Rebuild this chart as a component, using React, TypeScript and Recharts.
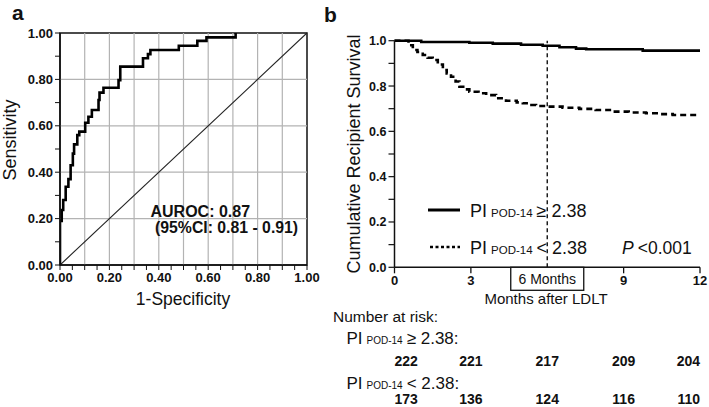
import React from 'react'
import { LineChart, Line, XAxis, YAxis, ReferenceLine, ReferenceArea } from 'recharts'

const FONT = '"Liberation Sans", Arial, Helvetica, sans-serif'

// panel a: ROC step corners (1-specificity, sensitivity)
const rocFpr = [0, 0, 0.007, 0.013, 0.023, 0.034, 0.043, 0.052, 0.057, 0.07, 0.078, 0.102, 0.115, 0.129, 0.156, 0.16, 0.176, 0.237, 0.244, 0.336, 0.356, 0.366, 0.481, 0.556, 0.593, 0.711]
const rocTpr = [0, 0.19, 0.237, 0.28, 0.337, 0.37, 0.43, 0.48, 0.52, 0.56, 0.575, 0.613, 0.639, 0.668, 0.711, 0.743, 0.764, 0.797, 0.855, 0.891, 0.909, 0.927, 0.945, 0.966, 0.981, 1.0]
const diagX = [0, 1]
const rocXTicks = [0, 0.05, 0.1, 0.15, 0.2, 0.25, 0.3, 0.35, 0.4, 0.45, 0.5, 0.55, 0.6, 0.65, 0.7, 0.75, 0.8, 0.85, 0.9, 0.95, 1]
const rocYTicks = [0, 0.1, 0.2, 0.3, 0.4, 0.5, 0.6, 0.7, 0.8, 0.9, 1]
const rocVGrid = [0.1, 0.2, 0.3, 0.4, 0.5, 0.6, 0.7, 0.8, 0.9]
const rocHGrid = [0.2, 0.4, 0.6, 0.8]

// panel b: Kaplan-Meier survival
const highMonths = [0, 1.05, 2.94, 3.86, 4.97, 5.82, 6.48, 7.13, 7.53, 9.75, 12]
const highSurv = [1, 0.994, 0.991, 0.987, 0.982, 0.978, 0.971, 0.965, 0.962, 0.956, 0.956]
const lowMonths = [0, 0.55, 0.72, 0.9, 1.11, 1.3, 1.5, 1.7, 1.9, 2.05, 2.22, 2.4, 2.55, 2.75, 2.94, 3.3, 3.6, 3.99, 4.38, 4.8, 5.04, 5.3, 5.56, 5.96, 6.6, 7.26, 7.9, 8.57, 9.2, 9.88, 10.4, 10.93, 12]
const lowSurv = [1, 0.98, 0.959, 0.95, 0.937, 0.925, 0.915, 0.895, 0.871, 0.855, 0.841, 0.82, 0.797, 0.785, 0.775, 0.768, 0.76, 0.746, 0.735, 0.728, 0.724, 0.716, 0.712, 0.709, 0.704, 0.699, 0.694, 0.687, 0.683, 0.68, 0.676, 0.672, 0.672]
const kmXTicks = [0, 3, 6, 9, 12]
const kmYTicks = [0, 0.1, 0.2, 0.3, 0.4, 0.5, 0.6, 0.7, 0.8, 0.9, 1]

// number at risk
const riskMonths = [0, 3, 6, 9, 12]
const riskHigh = [222, 221, 217, 209, 204]
const riskLow = [173, 136, 124, 116, 110]

const rocData = rocFpr.map((x, i) => ({ x, y: rocTpr[i] }))
const diagData = diagX.map((x) => ({ x, y: x }))
const highData = highMonths.map((t, i) => ({ t, s: highSurv[i] }))
const lowData = lowMonths.map((t, i) => ({ t, s: lowSurv[i] }))

// pixel position of a month on panel b (matches the chart's plot box)
const KM_LEFT = 394.5
const KM_RIGHT = 700
const monthX = (m: number) => KM_LEFT + (m / 12) * (KM_RIGHT - KM_LEFT)

const isMajor = (v: number) => Math.round(v * 100) % 20 === 0

const RocXTick = (p: any) => {
  const v = p.payload.value
  if (!isMajor(v)) return <g />
  return (
    <text x={p.x} y={p.y + 10} textAnchor="middle" fontSize={13} fontWeight="bold" fontFamily={FONT} fill="#111">
      {v.toFixed(2)}
    </text>
  )
}

const RocYTick = (p: any) => {
  const v = p.payload.value
  if (!isMajor(v)) return <g />
  return (
    <text x={p.x} y={p.y + 4.5} textAnchor="end" fontSize={13} fontWeight="bold" fontFamily={FONT} fill="#111">
      {v.toFixed(2)}
    </text>
  )
}

const KmXTick = (p: any) => {
  const v = p.payload.value
  if (v === 6) {
    const top = p.y - 8
    return (
      <g>
        <rect x={p.x - 36.5} y={top} width={73} height={23} fill="#fff" stroke="#111" strokeWidth={1.3} />
        <text x={p.x} y={top + 17} textAnchor="middle" fontSize={14} fontFamily={FONT} fill="#111">
          6 Months
        </text>
      </g>
    )
  }
  return (
    <text x={p.x} y={p.y + 10} textAnchor="middle" fontSize={13} fontWeight="bold" fontFamily={FONT} fill="#111">
      {v}
    </text>
  )
}

const KmYTick = (p: any) => {
  const v = p.payload.value
  if (!isMajor(v)) return <g />
  return (
    <text x={p.x} y={p.y + 4.5} textAnchor="end" fontSize={12.5} fontWeight="bold" fontFamily={FONT} fill="#111">
      {v.toFixed(1)}
    </text>
  )
}

const PiLabel = ({ x, y, big, small, sign }: { x: number; y: number; big: number; small: number; sign: string }) => (
  <text x={x} y={y} fontFamily={FONT} fill="#111">
    <tspan fontSize={big}>PI</tspan>
    <tspan fontSize={small} dx={4}>POD-14</tspan>
    <tspan fontSize={big} dx={4}>{sign}</tspan>
  </text>
)

export default function App() {
  return (
    <div style={{ position: 'absolute', left: 0, top: 0, width: 709, height: 407, background: '#fff', fontFamily: FONT }}>
      <div style={{ position: 'absolute', left: 0, top: 0 }}>
        <LineChart width={330} height={320} margin={{ top: 33, right: 23, left: 10, bottom: 25 }}>
          <XAxis
            type="number"
            dataKey="x"
            domain={[0, 1]}
            ticks={rocXTicks}
            interval={0}
            height={30}
            tickSize={5}
            tick={RocXTick}
            axisLine={{ stroke: '#111', strokeWidth: 1.5 }}
            tickLine={{ stroke: '#111' }}
            allowDataOverflow
          />
          <YAxis
            type="number"
            dataKey="y"
            domain={[0, 1]}
            ticks={rocYTicks}
            interval={0}
            width={50}
            tickSize={5}
            tick={RocYTick}
            axisLine={{ stroke: '#111', strokeWidth: 1.5 }}
            tickLine={{ stroke: '#111' }}
          />
          {rocVGrid.map((g) => (
            <ReferenceLine key={'v' + g} x={g} stroke="#b3b3b3" strokeWidth={1.2} />
          ))}
          {rocHGrid.map((g) => (
            <ReferenceLine key={'h' + g} y={g} stroke="#b3b3b3" strokeWidth={1.2} />
          ))}
          <ReferenceArea x1={0} x2={1} y1={0} y2={1} fill="none" stroke="#111" strokeWidth={1.5} />
          <Line data={diagData} dataKey="y" type="linear" stroke="#222" strokeWidth={1.1} dot={false} isAnimationActive={false} />
          <Line data={rocData} dataKey="y" type="stepAfter" stroke="#000" strokeWidth={2.6} dot={false} isAnimationActive={false} />
        </LineChart>
      </div>

      <div style={{ position: 'absolute', left: 330, top: 0 }}>
        <LineChart width={379} height={300} margin={{ top: 40.7, right: 9, left: 14.5, bottom: 2.7 }}>
          <XAxis
            type="number"
            dataKey="t"
            domain={[0, 12]}
            ticks={kmXTicks}
            interval={0}
            height={30}
            tickSize={6}
            tick={KmXTick}
            axisLine={{ stroke: '#111', strokeWidth: 1.5 }}
            tickLine={{ stroke: '#111', strokeWidth: 1.3 }}
          />
          <YAxis
            type="number"
            dataKey="s"
            domain={[0, 1]}
            ticks={kmYTicks}
            interval={0}
            width={50}
            tickSize={6}
            tick={KmYTick}
            axisLine={{ stroke: '#111', strokeWidth: 1.5 }}
            tickLine={{ stroke: '#111', strokeWidth: 1.2 }}
          />
          <ReferenceLine x={6} stroke="#111" strokeWidth={1.4} strokeDasharray="4 3" />
          <Line data={highData} dataKey="s" type="stepAfter" stroke="#000" strokeWidth={2.6} dot={false} isAnimationActive={false} />
          <Line data={lowData} dataKey="s" type="stepAfter" stroke="#000" strokeWidth={2.6} strokeDasharray="6 4" dot={false} isAnimationActive={false} />
        </LineChart>
      </div>

      <svg width={709} height={407} style={{ position: 'absolute', left: 0, top: 0, pointerEvents: 'none' }}>
        <text x={12} y={20} fontSize={21} fontWeight="bold" fontFamily={FONT} fill="#111">a</text>
        <text x={324} y={22} fontSize={21} fontWeight="bold" fontFamily={FONT} fill="#111">b</text>

        <text transform="translate(16,140) rotate(-90)" textAnchor="middle" fontSize={18} fontFamily={FONT} fill="#111">
          Sensitivity
        </text>
        <text x={183} y={305} textAnchor="middle" fontSize={17.5} fontFamily={FONT} fill="#111">1-Specificity</text>
        <text x={150.5} y={216.5} fontSize={16} fontWeight="bold" fontFamily={FONT} fill="#111">AUROC: 0.87</text>
        <text x={155} y={233} fontSize={15.8} fontWeight="bold" fontFamily={FONT} fill="#111">(95%CI: 0.81 - 0.91)</text>

        <text transform="translate(360,154) rotate(-90)" textAnchor="middle" fontSize={18} fontFamily={FONT} fill="#111">
          Cumulative Recipient Survival
        </text>
        <text x={546} y={303.5} textAnchor="middle" fontSize={15} fontFamily={FONT} fill="#111">Months after LDLT</text>

        <line x1={428} y1={210} x2={460} y2={210} stroke="#000" strokeWidth={3} />
        <PiLabel x={470} y={217} big={18} small={11.5} sign="≥ 2.38" />
        <line x1={430} y1={247} x2={460} y2={247} stroke="#000" strokeWidth={2.6} strokeDasharray="3 2.5" />
        <PiLabel x={470} y={254} big={18} small={11.5} sign="< 2.38" />
        <text x={622} y={254} fontSize={17.5} fontFamily={FONT} fill="#111">
          <tspan fontStyle="italic">P</tspan>
          <tspan dx={4}>&lt;0.001</tspan>
        </text>

        <text x={333} y={322} fontSize={15.5} fontFamily={FONT} fill="#111">Number at risk:</text>
        <PiLabel x={346.5} y={344} big={17} small={10} sign="≥ 2.38:" />
        {riskHigh.map((n, i) => (
          <text
            key={'h' + i}
            x={monthX(riskMonths[i])}
            y={366}
            textAnchor={i === 0 ? 'start' : i === riskHigh.length - 1 ? 'end' : 'middle'}
            fontSize={14}
            fontWeight="bold"
            fontFamily={FONT}
            fill="#111"
          >
            {n}
          </text>
        ))}
        <PiLabel x={346.5} y={389} big={17} small={10} sign="< 2.38:" />
        {riskLow.map((n, i) => (
          <text
            key={'l' + i}
            x={monthX(riskMonths[i])}
            y={403.5}
            textAnchor={i === 0 ? 'start' : i === riskLow.length - 1 ? 'end' : 'middle'}
            fontSize={14}
            fontWeight="bold"
            fontFamily={FONT}
            fill="#111"
          >
            {n}
          </text>
        ))}
      </svg>
    </div>
  )
}
